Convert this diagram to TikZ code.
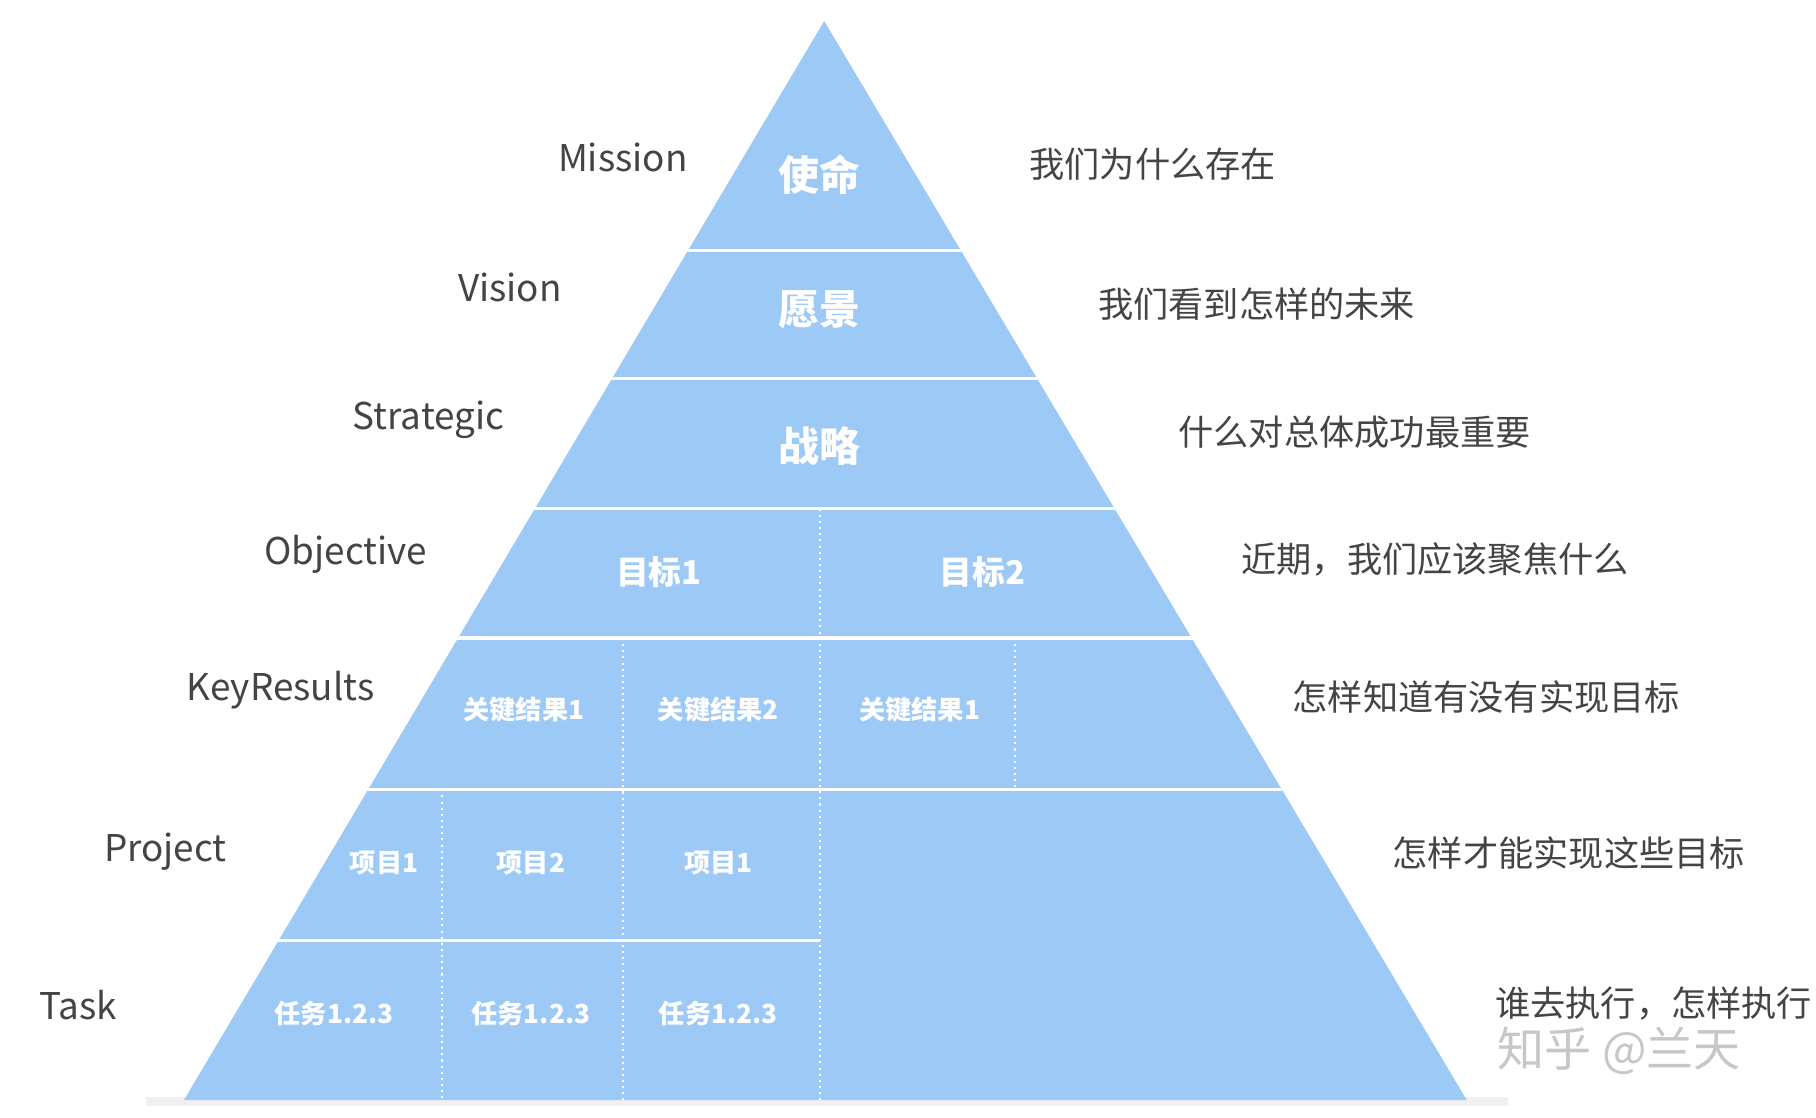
\documentclass[tikz,border=0pt]{standalone}
\usepackage{fontspec}
\setmainfont{Noto Sans CJK SC}
\definecolor{pyr}{HTML}{9DC9F6}
\definecolor{txt}{HTML}{444444}
\begin{document}
\begin{tikzpicture}[x=0.01cm,y=-0.01cm,
  lvl/.style={text=txt, font=\fontsize{9}{11}\selectfont},
  desc/.style={text=txt, anchor=west, font=\fontsize{8.6}{10}\selectfont},
  big/.style={text=white, font=\bfseries\fontsize{10}{12}\selectfont},
  mid/.style={text=white, font=\bfseries\fontsize{8}{10}\selectfont},
  small/.style={text=white, font=\bfseries\fontsize{6.4}{8}\selectfont},
  sep/.style={white, line width=0.8pt},
  dot/.style={white, densely dotted, line width=0.5pt}]
\useasboundingbox (0,0) rectangle (1560,960);
% pyramid
\coordinate (top) at (708,18);
\coordinate (bl) at (158,945);
\coordinate (br) at (1260,945);
\fill[black!6] (125,942) rectangle (1295,950);
\fill[pyr] (top) -- (bl) -- (br) -- cycle;
\begin{scope}
\clip (top) -- (bl) -- (br) -- cycle;
\foreach \y in {215,325,437,548,678} \draw[sep] (0,\y) -- (1560,\y);
\draw[sep] (0,808) -- (704,808);
\draw[dot] (704,437) -- (704,945);
\draw[dot] (535,548) -- (535,945);
\draw[dot] (872,548) -- (872,678);
\draw[dot] (380,678) -- (380,945);
\end{scope}
% cells
\node[big] (c1) at (704,150) {使命};
\node[big] (c2) at (704,266) {愿景};
\node[big] (c3) at (704,383) {战略};
\node[mid] (o1) at (566,491) {目标1};
\node[mid] (o2) at (844,491) {目标2};
\node[small] (k1) at (450,610) {关键结果1};
\node[small] (k2) at (617,610) {关键结果2};
\node[small] (k3) at (790,610) {关键结果1};
\node[small] (p1) at (330,741) {项目1};
\node[small] (p2) at (456,741) {项目2};
\node[small] (p3) at (617,741) {项目1};
\node[small] (t1) at (287,871) {任务1.2.3};
\node[small] (t2) at (456,871) {任务1.2.3};
\node[small] (t3) at (617,871) {任务1.2.3};
% levels
\node[lvl] (mission) at (535,135) {Mission};
\node[lvl] (vision) at (438,247) {Vision};
\node[lvl] (strategic) at (368,361) {Strategic};
\node[lvl] (objective) at (297,476) {Objective};
\node[lvl] (keyresults) at (241,593) {KeyResults};
\node[lvl] (project) at (142,732) {Project};
\node[lvl] (task) at (67,863) {Task};
% descriptions
\node[desc] (d1) at (872,141) {我们为什么存在};
\node[desc] (d2) at (931,261) {我们看到怎样的未来};
\node[desc] (d3) at (1000,371) {什么对总体成功最重要};
\node[desc] (d4) at (1054,481) {近期，我们应该聚焦什么};
\node[desc] (d5) at (1098,599) {怎样知道有没有实现目标};
\node[desc] (d6) at (1184,733) {怎样才能实现这些目标};
\node[desc] (d7) at (1272,862) {谁去执行，怎样执行};
\node[text=black!22, anchor=west, font=\fontsize{11.5}{13}\selectfont] (wm) at (1274,903) {知乎 @兰天};
\end{tikzpicture}
\end{document}
